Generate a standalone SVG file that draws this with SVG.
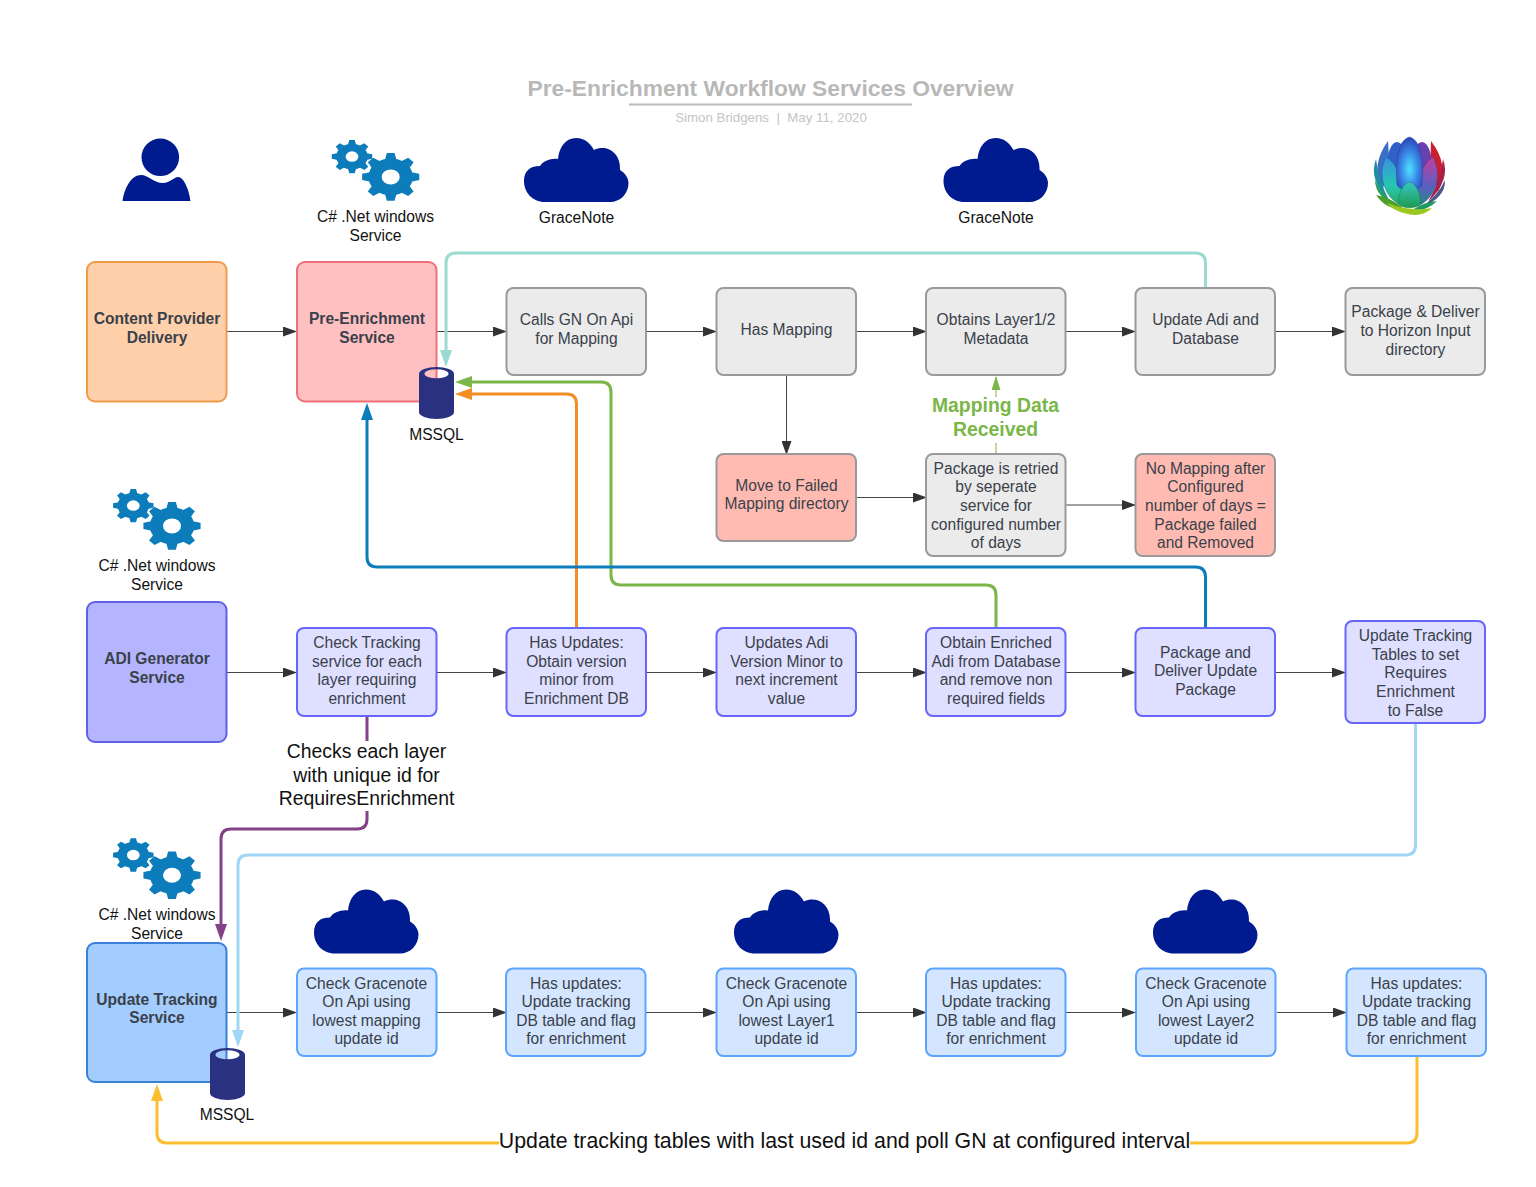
<svg xmlns="http://www.w3.org/2000/svg" width="1536" height="1187" viewBox="0 0 1536 1187">
<style>
text{font-family:"Liberation Sans",Arial,sans-serif;font-size:15.600px;fill:#3a414a;text-anchor:middle}
.n{stroke-width:2}
.gray{fill:#ebebeb;stroke:#9a9a9a}
.red{fill:#ffbbb1;stroke:#999}
.lav{fill:#dfdfff;stroke:#6666ff}
.blu{fill:#d4e6ff;stroke:#5ba5ff}
.k{fill:#111}
.b{font-weight:bold}
.big{font-size:19.400px;fill:#111}
.c{fill:none;stroke-width:3}
.t{fill:none;stroke:#444;stroke-width:1}
</style>
<defs>
<marker id="ad" markerUnits="userSpaceOnUse" markerWidth="14" markerHeight="10" refX="13" refY="5" orient="auto"><path d="M0 0L14 5L0 10z" fill="#333"/></marker>
<marker id="at" markerUnits="userSpaceOnUse" markerWidth="17" markerHeight="12" refX="8" refY="6" orient="auto"><path d="M0 0L17 6L0 12z" fill="#99dbd0"/></marker>
<marker id="ag" markerUnits="userSpaceOnUse" markerWidth="17" markerHeight="12" refX="8" refY="6" orient="auto"><path d="M0 0L17 6L0 12z" fill="#7ab648"/></marker>
<marker id="ags" markerUnits="userSpaceOnUse" markerWidth="14" markerHeight="9" refX="13" refY="4.500" orient="auto"><path d="M0 0L14 4.500L0 9z" fill="#7ab648"/></marker>
<marker id="ao" markerUnits="userSpaceOnUse" markerWidth="17" markerHeight="12" refX="8" refY="6" orient="auto"><path d="M0 0L17 6L0 12z" fill="#f28e25"/></marker>
<marker id="ab" markerUnits="userSpaceOnUse" markerWidth="17" markerHeight="12" refX="8" refY="6" orient="auto"><path d="M0 0L17 6L0 12z" fill="#0c7cba"/></marker>
<marker id="ap" markerUnits="userSpaceOnUse" markerWidth="17" markerHeight="12" refX="8" refY="6" orient="auto"><path d="M0 0L17 6L0 12z" fill="#834187"/></marker>
<marker id="al" markerUnits="userSpaceOnUse" markerWidth="17" markerHeight="12" refX="8" refY="6" orient="auto"><path d="M0 0L17 6L0 12z" fill="#9fd5f5"/></marker>
<marker id="ay" markerUnits="userSpaceOnUse" markerWidth="17" markerHeight="12" refX="8" refY="6" orient="auto"><path d="M0 0L17 6L0 12z" fill="#fcbe2f"/></marker>
<path id="t1" d="M-5.500 -14L-3.200 -23.800H3.200L5.500 -14Z"/>
<g id="gear1">
<circle r="18.500"/>
<use href="#t1"/><use href="#t1" transform="rotate(45)"/><use href="#t1" transform="rotate(90)"/><use href="#t1" transform="rotate(135)"/><use href="#t1" transform="rotate(180)"/><use href="#t1" transform="rotate(225)"/><use href="#t1" transform="rotate(270)"/><use href="#t1" transform="rotate(315)"/>
<circle r="7.500" fill="#fff"/>
</g>
<g id="gears" fill="#0c7cba">
<use href="#gear1" transform="scale(.85 .7)"/>
<use href="#gear1" transform="translate(38.700 20.300) scale(1.200 1)"/>
</g>
<path id="cloud" fill="#001a8f" d="M545 202C532 202 524 192 524 181C524 170 531 166 540 166C543 161 551 158 558 159C559 147 566 138 576 138C585 138 590 143 594 150C606 144 621 152 620 170C625 173 628.500 178 628.500 183C628.500 194 620 202 610 202Z"/>
<path id="cyl" fill="#2a3180" fill-rule="evenodd" d="M0 7A17.500 7 0 0 1 35 7V45A17.500 7 0 0 1 0 45ZM5.500 6.700A12 4.500 0 0 0 29.500 6.700A12 4.500 0 0 0 5.500 6.700Z"/>
<radialGradient id="lc" cx=".5" cy=".6" r=".6"><stop offset="0" stop-color="#4fe3ff"/><stop offset=".5" stop-color="#3b8ee8"/><stop offset="1" stop-color="#2a44b8"/></radialGradient>
<linearGradient id="lg" x1="0" y1="0" x2="0" y2="1"><stop offset="0" stop-color="#35c8c0"/><stop offset="1" stop-color="#1e9a50"/></linearGradient>
<linearGradient id="ll" x1="0" y1="0" x2="0" y2="1"><stop offset="0" stop-color="#3a8fe0"/><stop offset=".6" stop-color="#25c8b0"/><stop offset="1" stop-color="#2aa858"/></linearGradient>
<linearGradient id="lr" x1="0" y1="0" x2="0" y2="1"><stop offset="0" stop-color="#c040a0"/><stop offset=".6" stop-color="#5a5fc0"/><stop offset="1" stop-color="#208a80"/></linearGradient>
</defs>
<rect width="1536" height="1187" fill="#fff"/>

<g id="title">
<text x="770.500" y="96" class="b" style="font-size:22.800px;fill:#b8b8b8">Pre-Enrichment Workflow Services Overview</text>
<rect x="629" y="103.500" width="283" height="2" fill="#bbb"/>
<text x="771" y="122" style="font-size:13.300px;fill:#c4c4c4">Simon Bridgens&#160;&#160;|&#160;&#160;May 11, 2020</text>
</g>

<g id="connectors">
<path class="t" d="M227 331.500H296" marker-end="url(#ad)"/>
<path class="t" d="M437 331.500H506" marker-end="url(#ad)"/>
<path class="t" d="M646 331.500H716" marker-end="url(#ad)"/>
<path class="t" d="M856 331.500H926" marker-end="url(#ad)"/>
<path class="t" d="M1066 331.500H1135" marker-end="url(#ad)"/>
<path class="t" d="M1275 331.500H1345" marker-end="url(#ad)"/>
<path class="t" d="M786.500 375V454" marker-end="url(#ad)"/>
<path class="t" d="M856 497.500H926" marker-end="url(#ad)"/>
<path class="t" d="M1066 505H1135" marker-end="url(#ad)"/>
<path class="t" d="M227 672.500H296" marker-end="url(#ad)"/>
<path class="t" d="M437 672.500H506" marker-end="url(#ad)"/>
<path class="t" d="M646 672.500H716" marker-end="url(#ad)"/>
<path class="t" d="M856 672.500H926" marker-end="url(#ad)"/>
<path class="t" d="M1066 672.500H1135" marker-end="url(#ad)"/>
<path class="t" d="M1275 672.500H1345" marker-end="url(#ad)"/>
<path class="t" d="M227 1012.500H296" marker-end="url(#ad)"/>
<path class="t" d="M437 1012.500H506" marker-end="url(#ad)"/>
<path class="t" d="M646 1012.500H716" marker-end="url(#ad)"/>
<path class="t" d="M856 1012.500H926" marker-end="url(#ad)"/>
<path class="t" d="M1066 1012.500H1135" marker-end="url(#ad)"/>
<path class="t" d="M1277 1012.500H1346" marker-end="url(#ad)"/>
<path class="c" stroke="#99dbd0" d="M1205.500 288V263Q1205.500 253 1195.500 253H456Q446 253 446 263V358" marker-end="url(#at)"/>
<path class="c" stroke="#7ab648" d="M996 628V595Q996 585 986 585H621Q611 585 611 575V392Q611 382 601 382H464" marker-end="url(#ag)"/>
<path class="c" stroke="#f28e25" d="M576.500 628V404Q576.500 394 566.500 394H464" marker-end="url(#ao)"/>
<path class="c" stroke="#0c7cba" d="M1205.500 628V577Q1205.500 567 1195.500 567H377Q367 567 367 557V412" marker-end="url(#ab)"/>
<path class="c" stroke="#834187" d="M367 716V819Q367 829 357 829H231Q221 829 221 839V932" marker-end="url(#ap)"/>
<path class="c" stroke="#9fd5f5" d="M1415.500 723V845Q1415.500 855 1405.500 855H248Q238 855 238 865V1038" marker-end="url(#al)"/>
<path class="c" stroke="#fcbe2f" d="M1417 1056V1133Q1417 1143 1407 1143H167Q157 1143 157 1133V1093" marker-end="url(#ay)"/>
<path fill="none" stroke="#7ab648" d="M996 443V454"/>
<path fill="none" stroke="#7ab648" d="M996 397V377" marker-end="url(#ags)"/>
</g>

<g id="person" fill="#001a8f">
<circle cx="160.300" cy="157.300" r="18.800"/>
<path d="M122.500 201C125 186 132 175 141 175C148 175 154 183 163 183C170 183 174 177 178 177C184 177 189 190 190.500 201Z"/>
</g>
<use id="gears-1" href="#gears" x="352" y="156.600"/>
<g id="label-csharp-1"><text x="375.500" y="222" class="k">C# .Net windows</text><text x="375.500" y="240.500" class="k">Service</text></g>
<g id="cloud-1"><use href="#cloud"/><text x="576.500" y="222.500" class="k">GraceNote</text></g>
<g id="cloud-2"><use href="#cloud" x="419.500"/><text x="996" y="222.500" class="k">GraceNote</text></g>

<g id="lotus">
<path d="M1431 141Q1450 165 1438 192Q1429 165 1431 141Z" fill="#c8202f"/>
<path d="M1388 141Q1370 165 1382 192Q1391 165 1388 141Z" fill="#3b6fc8"/>
<path d="M1443 159Q1451 180 1428 202Q1441 180 1443 159Z" fill="#a82048"/>
<path d="M1376 159Q1368 180 1390 202Q1378 180 1376 159Z" fill="#1f8f9f"/>
<path d="M1445 180Q1446 198 1420 208Q1438 196 1445 180Z" fill="#4a5a90"/>
<path d="M1375 180Q1375 198 1400 208Q1382 196 1375 180Z" fill="#2aa060"/>
<ellipse cx="1397" cy="166" rx="10" ry="24" fill="#3060c8"/>
<ellipse cx="1422" cy="166" rx="10" ry="24" fill="#6a3fb0"/>
<path d="M1386 157C1377 175 1384 198 1402 206C1405 185 1399 165 1386 157Z" fill="url(#ll)" stroke="#1d5f8f" stroke-width=".4"/>
<path d="M1433 157C1443 175 1436 198 1418 206C1415 185 1420 165 1433 157Z" fill="url(#lr)" stroke="#3a2f80" stroke-width=".4"/>
<path d="M1409.500 137C1398 140 1395 160 1397 185C1400 192 1419 192 1422 185C1424 160 1421 140 1409.500 137Z" fill="url(#lc)" stroke="#2a3fa0" stroke-width=".4"/>
<path d="M1409.500 182C1402 184 1398 195 1398.500 204C1402 209 1417 209 1420.500 204C1421 195 1417 184 1409.500 182Z" fill="url(#lg)" stroke="#15704a" stroke-width=".4"/>
<path d="M1376 195Q1386 210 1404 209Q1392 198 1376 195Z" fill="#4f9f2e"/>
<path d="M1437 201Q1426 212 1412 210Q1424 202 1437 201Z" fill="#1e9a60"/>
<path d="M1387 203Q1395 213 1415 215Q1425 215 1432 208Q1410 212 1387 203Z" fill="#9ac81f"/>
</g>

<g id="n-content"><rect class="n" x="87" y="262" width="139.500" height="139.500" rx="8" fill="#ffd0aa" stroke="#f2994a"/><text x="157" y="324" class="b">Content Provider</text><text x="157" y="342.500" class="b">Delivery</text></g>
<g id="n-pre"><rect class="n" x="297" y="262" width="139.500" height="139.500" rx="8" fill="#ffc0c2" stroke="#f07078"/><text x="367" y="324" class="b">Pre-Enrichment</text><text x="367" y="342.500" class="b">Service</text></g>
<g id="n-calls"><rect class="n gray" x="506.500" y="288" width="139.500" height="87" rx="7"/><text x="576.500" y="325">Calls GN On Api</text><text x="576.500" y="343.500">for Mapping</text></g>
<g id="n-hasmap"><rect class="n gray" x="716.500" y="288" width="139.500" height="87" rx="7"/><text x="786.500" y="334.500">Has Mapping</text></g>
<g id="n-obtains"><rect class="n gray" x="926" y="288" width="139.500" height="87" rx="7"/><text x="996" y="325">Obtains Layer1/2</text><text x="996" y="343.500">Metadata</text></g>
<g id="n-updateadi"><rect class="n gray" x="1135.500" y="288" width="139.500" height="87" rx="7"/><text x="1205.500" y="325">Update Adi and</text><text x="1205.500" y="343.500">Database</text></g>
<g id="n-package"><rect class="n gray" x="1345.500" y="288" width="139.500" height="87" rx="7"/><text x="1415.500" y="317">Package &amp; Deliver</text><text x="1415.500" y="336">to Horizon Input</text><text x="1415.500" y="354.500">directory</text></g>
<g id="n-failed"><rect class="n red" x="716.500" y="454" width="139.500" height="87" rx="7"/><text x="786.500" y="490.500">Move to Failed</text><text x="786.500" y="509">Mapping directory</text></g>
<g id="n-retried"><rect class="n gray" x="926" y="454" width="139.500" height="102" rx="7"/><text x="996" y="473.500">Package is retried</text><text x="996" y="492">by seperate</text><text x="996" y="511">service for</text><text x="996" y="529.500">configured number</text><text x="996" y="548">of days</text></g>
<g id="n-nomap"><rect class="n red" x="1135.500" y="454" width="139.500" height="102" rx="7"/><text x="1205.500" y="473.500">No Mapping after</text><text x="1205.500" y="492">Configured</text><text x="1205.500" y="511">number of days =</text><text x="1205.500" y="529.500">Package failed</text><text x="1205.500" y="548">and Removed</text></g>
<g id="label-mapping"><text x="995.500" y="412" class="big b" style="fill:#7ab648">Mapping Data</text><text x="995.500" y="435.500" class="big b" style="fill:#7ab648">Received</text></g>
<use id="gears-2" href="#gears" x="133.300" y="505.600"/>
<g id="label-csharp-2"><text x="157" y="571" class="k">C# .Net windows</text><text x="157" y="589.500" class="k">Service</text></g>
<g id="n-adi"><rect class="n" x="87" y="602" width="139.500" height="140" rx="8" fill="#b5b5ff" stroke="#6060e8"/><text x="157" y="664" class="b">ADI Generator</text><text x="157" y="682.500" class="b">Service</text></g>
<g id="n-check"><rect class="n lav" x="297" y="628" width="139.500" height="88" rx="7"/><text x="367" y="648">Check Tracking</text><text x="367" y="666.500">service for each</text><text x="367" y="685">layer requiring</text><text x="367" y="704">enrichment</text></g>
<g id="n-hasupd"><rect class="n lav" x="506.500" y="628" width="139.500" height="88" rx="7"/><text x="576.500" y="648">Has Updates:</text><text x="576.500" y="666.500">Obtain version</text><text x="576.500" y="685">minor from</text><text x="576.500" y="704">Enrichment DB</text></g>
<g id="n-updadi"><rect class="n lav" x="716.500" y="628" width="139.500" height="88" rx="7"/><text x="786.500" y="648">Updates Adi</text><text x="786.500" y="666.500">Version Minor to</text><text x="786.500" y="685">next increment</text><text x="786.500" y="704">value</text></g>
<g id="n-obtenr"><rect class="n lav" x="926" y="628" width="139.500" height="88" rx="7"/><text x="996" y="648">Obtain Enriched</text><text x="996" y="666.500">Adi from Database</text><text x="996" y="685">and remove non</text><text x="996" y="704">required fields</text></g>
<g id="n-pkgupd"><rect class="n lav" x="1135.500" y="628" width="139.500" height="88" rx="7"/><text x="1205.500" y="657.500">Package and</text><text x="1205.500" y="676">Deliver Update</text><text x="1205.500" y="695">Package</text></g>
<g id="n-updtrk"><rect class="n lav" x="1345.500" y="621" width="139.500" height="102" rx="7"/><text x="1415.500" y="641">Update Tracking</text><text x="1415.500" y="659.500">Tables to set</text><text x="1415.500" y="678">Requires</text><text x="1415.500" y="697">Enrichment</text><text x="1415.500" y="715.500">to False</text></g>
<g id="label-checks"><rect x="270" y="741" width="195" height="70" fill="#fff"/><text x="366.500" y="758" class="big">Checks each layer</text><text x="366.500" y="781.500" class="big">with unique id for</text><text x="366.500" y="805" class="big">RequiresEnrichment</text></g>
<use id="gears-3" href="#gears" x="133.300" y="855"/>
<g id="label-csharp-3"><text x="157" y="920" class="k">C# .Net windows</text><text x="157" y="938.500" class="k">Service</text></g>
<use id="cloud-3" href="#cloud" x="-210" y="751.500"/>
<use id="cloud-4" href="#cloud" x="210" y="751.500"/>
<use id="cloud-5" href="#cloud" x="629" y="751.500"/>
<g id="n-trk"><rect class="n" x="87" y="943" width="139.500" height="139" rx="8" fill="#a3ccff" stroke="#3a80d8"/><text x="157" y="1004.500" class="b">Update Tracking</text><text x="157" y="1023" class="b">Service</text></g>
<g id="n-g1"><rect class="n blu" x="297" y="968.500" width="139.500" height="87.500" rx="7"/><text x="366.500" y="988.500">Check Gracenote</text><text x="366.500" y="1007">On Api using</text><text x="366.500" y="1025.500">lowest mapping</text><text x="366.500" y="1044">update id</text></g>
<g id="n-h1"><rect class="n blu" x="506" y="968.500" width="139.500" height="87.500" rx="7"/><text x="576" y="988.500">Has updates:</text><text x="576" y="1007">Update tracking</text><text x="576" y="1025.500">DB table and flag</text><text x="576" y="1044">for enrichment</text></g>
<g id="n-g2"><rect class="n blu" x="716.500" y="968.500" width="139.500" height="87.500" rx="7"/><text x="786.500" y="988.500">Check Gracenote</text><text x="786.500" y="1007">On Api using</text><text x="786.500" y="1025.500">lowest Layer1</text><text x="786.500" y="1044">update id</text></g>
<g id="n-h2"><rect class="n blu" x="926" y="968.500" width="139.500" height="87.500" rx="7"/><text x="996" y="988.500">Has updates:</text><text x="996" y="1007">Update tracking</text><text x="996" y="1025.500">DB table and flag</text><text x="996" y="1044">for enrichment</text></g>
<g id="n-g3"><rect class="n blu" x="1136" y="968.500" width="139.500" height="87.500" rx="7"/><text x="1206" y="988.500">Check Gracenote</text><text x="1206" y="1007">On Api using</text><text x="1206" y="1025.500">lowest Layer2</text><text x="1206" y="1044">update id</text></g>
<g id="n-h3"><rect class="n blu" x="1346.500" y="968.500" width="139.500" height="87.500" rx="7"/><text x="1416.500" y="988.500">Has updates:</text><text x="1416.500" y="1007">Update tracking</text><text x="1416.500" y="1025.500">DB table and flag</text><text x="1416.500" y="1044">for enrichment</text></g>
<g id="db-1"><use href="#cyl" x="419" y="367"/><text x="436.500" y="439.500" class="k">MSSQL</text></g>
<g id="db-2"><use href="#cyl" x="210" y="1048"/><text x="227" y="1120" class="k">MSSQL</text></g>
<g id="label-update"><rect x="499" y="1128" width="691" height="26" fill="#fff"/><text x="844.500" y="1148" class="big" style="font-size:21.300px">Update tracking tables with last used id and poll GN at configured interval</text></g>
</svg>
